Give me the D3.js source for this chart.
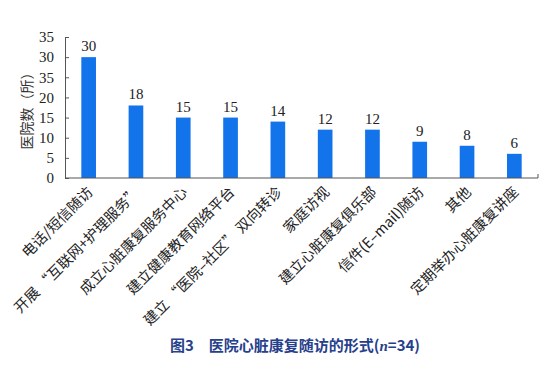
<!DOCTYPE html>
<html>
<head>
<meta charset="utf-8">
<script src="https://cdn.jsdelivr.net/npm/d3@7"></script>
<style>
	body { margin: 0; background: #fff; }
	text { font-family: "Liberation Serif", "Noto Sans CJK SC", serif; }
</style>
</head>
<body>
<script>

let width = 559;
let height = 374;

let margins = {
	top: 37,
	right: 21,
	bottom: 196,
	left: 65
};

// Data
let categories = [
	"电话/短信随访",
	"开展 “互联网+护理服务”",
	"成立心脏康复服务中心",
	"建立健康教育网络平台",
	"建立 “医院–社区” 双向转诊",
	"家庭访视",
	"建立心脏康复俱乐部",
	"信件(E–mail)随访",
	"其他",
	"定期举办心脏康复讲座"
];
let counts = [30, 18, 15, 15, 14, 12, 12, 9, 8, 6];
let tickValues = [0, 5, 10, 15, 20, 25, 30, 35];
// tick labels as printed in the figure (third from top reads 35)
let tickLabels = ["0", "5", "10", "15", "20", "35", "30", "35"];

let xScale = d3.scaleBand()
	.range([margins.left, width - margins.right])
	.domain(categories)
	.paddingInner(0.69)
	.paddingOuter(0.345);

let yScale = d3.scaleLinear()
	.range([height - margins.bottom, margins.top])
	.domain([0, 35]);

let svg = d3.select("body")
	.append("svg")
		.attr("width", width)
		.attr("height", height);

// Bars
svg.selectAll("rect.bar")
	.data(counts)
	.enter().append("rect")
		.attr("class", "bar")
		.attr("x", (d, i) => xScale(categories[i]))
		.attr("y", d => yScale(d))
		.attr("width", xScale.bandwidth())
		.attr("height", d => yScale(0) - yScale(d))
		.style("fill", "#1273ea");

// Value labels
svg.selectAll("text.value")
	.data(counts)
	.enter().append("text")
		.attr("class", "value")
		.attr("x", (d, i) => xScale(categories[i]) + xScale.bandwidth() / 2)
		.attr("y", d => yScale(d) - 6)
		.attr("text-anchor", "middle")
		.style("font-size", "15px")
		.style("fill", "#222")
		.text(d => d);

// Y axis
let yAxis = d3.axisRight(yScale)
	.tickValues(tickValues)
	.tickSize(4)
	.tickFormat((d, i) => tickLabels[i]);

let gy = svg.append("g")
	.attr("class", "y axis")
	.attr("transform", "translate(" + margins.left + ",0)")
	.call(yAxis);
gy.select(".domain").attr("stroke", "#555");
gy.selectAll(".tick line").attr("stroke", "#555");
gy.selectAll(".tick text")
	.attr("x", -11)
	.attr("text-anchor", "end")
	.style("font-size", "15px")
	.style("fill", "#222");

// X axis
let xAxis = d3.axisTop(xScale).tickSize(0).tickFormat("");
let gx = svg.append("g")
	.attr("class", "x axis")
	.attr("transform", "translate(0," + yScale(0) + ")")
	.call(xAxis);
gx.select(".domain").attr("d", "M" + margins.left + ",0H" + (width - margins.right) + "V-4").attr("stroke", "#555").attr("fill", "none");

// Category labels
svg.selectAll("text.cat")
	.data(categories)
	.enter().append("text")
		.attr("class", "cat")
		.attr("text-anchor", "end")
		.attr("transform", d => "translate(" + (xScale(d) + xScale.bandwidth() / 2 + 5) + "," + (yScale(0) + 15) + ") rotate(-45)")
		.style("font-family", "'Noto Sans CJK SC', sans-serif")
		.style("font-size", "14.5px")
		.style("fill", "#222")
		.text(d => d);

// Y title
svg.append("text")
	.attr("transform", "translate(27," + ((yScale(0) + yScale(35)) / 2) + ") rotate(-90)")
	.attr("text-anchor", "middle")
	.attr("dy", "0.35em")
	.style("font-family", "'Noto Sans CJK SC', sans-serif")
	.style("font-size", "14px")
	.style("fill", "#333")
	.text("医院数（所）");

// Caption
let cap = svg.append("text")
	.attr("x", 295)
	.attr("y", 351)
	.attr("text-anchor", "middle")
	.style("font-family", "'Noto Sans CJK SC', sans-serif")
	.style("font-size", "15px")
	.style("font-weight", "bold")
	.style("fill", "#27408b");
cap.append("tspan").text("图3\u3000医院心脏康复随访的形式(");
cap.append("tspan").style("font-style", "italic").style("font-family", "'Liberation Serif', serif").text("n");
cap.append("tspan").text("=34)");

</script>
</body>
</html>
